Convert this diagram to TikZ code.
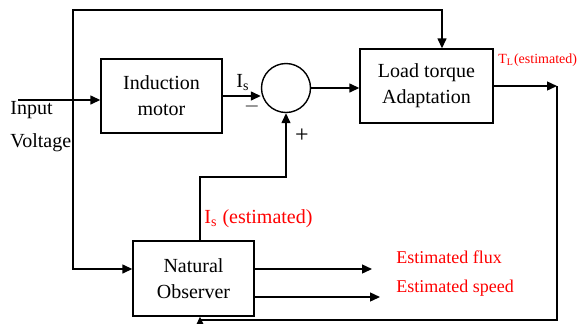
\documentclass[tikz,border=0pt]{standalone}
\usepackage{fontspec}
\setmainfont{Liberation Serif}
\usetikzlibrary{arrows.meta}

\begin{document}
\begin{tikzpicture}[
    x=0.5pt, y=-0.5pt,
    box/.style={rectangle, draw, line width=0.7pt, align=center,
                minimum width=60.5pt, minimum height=37pt, inner sep=1pt,
                font=\fontsize{10}{13}\selectfont},
    lbl/.style={text=red, anchor=west, inner sep=0pt, font=\fontsize{9}{10}\selectfont},
    arr/.style={-{Triangle[length=5pt, width=4.5pt]}, line width=0.7pt}
]
\useasboundingbox (0,0) rectangle (579,323);
\node[box] (motor) at (161.5,96) {Induction\\motor};
\node[box, minimum width=66.5pt] (load) at (426.5,86) {Load torque\\Adaptation};
\node[box, minimum height=37.5pt] (obs) at (193.5,278.5) {Natural\\Observer};
\node[circle, draw, line width=0.7pt, minimum size=24.5pt, inner sep=0pt] (sum) at (286,88) {};
\node[anchor=north west, align=left, inner sep=0pt, font=\fontsize{10}{16.5}\selectfont] (input) at (10,101) {Input\\Voltage};
\node[font=\fontsize{10}{12}\selectfont, inner sep=0pt] (istag) at (243,83) {I\textsubscript{s}};
\node[font=\fontsize{10}{12}\selectfont, inner sep=0pt] (minus) at (252,106) {$-$};
\node[font=\fontsize{12}{14}\selectfont, inner sep=0pt] (plus) at (302,136) {+};
\node[lbl, font=\fontsize{10}{12}\selectfont] (istext) at (204,219) {I\textsubscript{s} (estimated)};
\node[lbl, font=\fontsize{7}{8}\selectfont] (tltext) at (498,60) {T\textsubscript{L}(estimated)};
\node[lbl] (fluxtext) at (396,257) {Estimated flux};
\node[lbl] (speedtext) at (396,288) {Estimated speed};
\coordinate (start) at (18,100);
\coordinate (split) at (73,100);
\coordinate (top) at (442,10);
\coordinate (fb) at (200,177);
\coordinate (tl) at (557,86);
\coordinate (bot) at (200,320);
\coordinate (flux) at (372,269);
\coordinate (speed) at (380,297);
\draw[arr] (start) -- (start -| motor.west);
\draw[arr] (split) |- (top) -- (top |- load.north);
\draw[arr] (split) |- (flux -| obs.west);
\draw[arr] (motor.east) -- (motor.east -| sum.west);
\draw[arr] (sum.east) -- (sum.east -| load.west);
\draw[arr] (fb |- obs.north) -- (fb) -| (sum.south);
\draw[arr] (load.east) -- (tl);
\draw[arr] (tl) |- (bot) -- (bot |- obs.south);
\draw[arr] (flux -| obs.east) -- (flux);
\draw[arr] (speed -| obs.east) -- (speed);
\end{tikzpicture}
\end{document}
